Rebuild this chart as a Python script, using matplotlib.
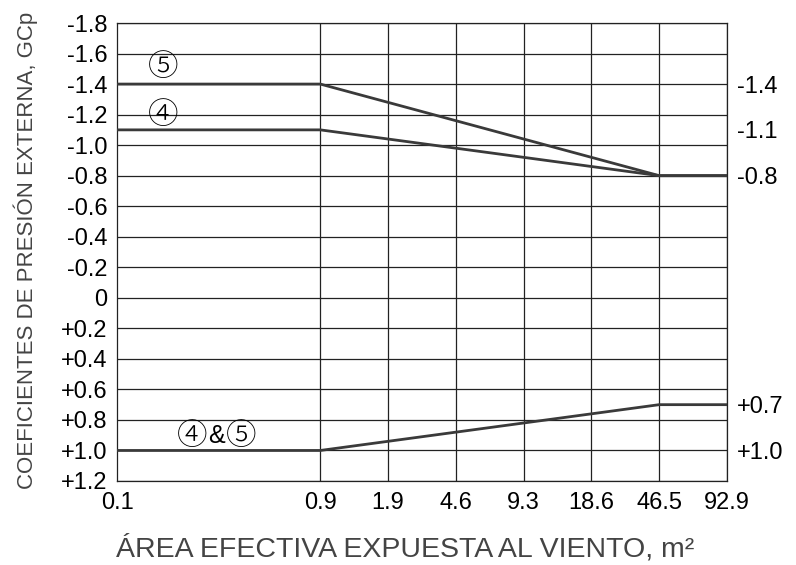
import matplotlib
matplotlib.use('Agg')
import matplotlib.pyplot as plt

# x axis: area categories, evenly spaced grid (0.1 sits three cells left of 0.9)
area_labels = ['0.1', '0.9', '1.9', '4.6', '9.3', '18.6', '46.5', '92.9']
area_pos = [0, 3, 4, 5, 6, 7, 8, 9]

# GCp points at 0.1, 0.9, 46.5, 92.9
line_area_idx = [0, 1, 6, 7]
zone5_neg = [-1.4, -1.4, -0.8, -0.8]
zone4_neg = [-1.1, -1.1, -0.8, -0.8]
zone45_pos = [1.0, 1.0, 0.7, 0.7]

y_ticks = [-1.8, -1.6, -1.4, -1.2, -1.0, -0.8, -0.6, -0.4, -0.2, 0,
           0.2, 0.4, 0.6, 0.8, 1.0, 1.2]
y_tick_labels = ['-1.8', '-1.6', '-1.4', '-1.2', '-1.0', '-0.8', '-0.6', '-0.4',
                 '-0.2', '0', '+0.2', '+0.4', '+0.6', '+0.8', '+1.0', '+1.2']
right_ticks = [-1.4, -1.1, -0.8, 0.7, 1.0]
right_labels = ['-1.4', '-1.1', '-0.8', '+0.7', '+1.0']

plt.rcParams['font.family'] = ['Liberation Sans', 'Noto Sans CJK JP', 'DejaVu Sans']

fig = plt.figure(figsize=(7.96, 5.65), dpi=100)
ax = fig.add_axes([117 / 796, 1 - 481 / 565, 610 / 796, 458 / 565])

ax.set_xlim(0, 9)
ax.set_ylim(1.2, -1.8)

grid_c = '#222222'
for v in y_ticks:
    ax.axhline(v, color=grid_c, lw=0.9, zorder=1)
for p in area_pos[1:]:
    ax.axvline(p, color=grid_c, lw=0.9, zorder=1)
for s in ax.spines.values():
    s.set_color(grid_c)
    s.set_linewidth(0.9)

line_c = '#3a3a3a'
xs = [area_pos[i] for i in line_area_idx]
ax.plot(xs, zone5_neg, color=line_c, lw=2.0, zorder=3)
ax.plot(xs, zone4_neg, color=line_c, lw=2.0, zorder=3)
ax.plot(xs, zone45_pos, color=line_c, lw=2.0, zorder=3)

ax.set_xticks(area_pos)
ax.set_xticklabels(area_labels)
ax.set_yticks(y_ticks)
ax.set_yticklabels(y_tick_labels)
ax.tick_params(axis='both', length=0, labelsize=17, colors='black')
ax.tick_params(axis='x', pad=8)
ax.tick_params(axis='y', pad=7)

ax2 = ax.twinx()
ax2.set_ylim(1.2, -1.8)
ax2.set_yticks(right_ticks)
ax2.set_yticklabels(right_labels)
ax2.tick_params(axis='y', length=0, labelsize=17, pad=7)
for s in ax2.spines.values():
    s.set_visible(False)

circ = dict(fontsize=22, fontweight='light', ha='center', va='center', zorder=4,
            family=['Noto Sans CJK JP', 'DejaVu Sans'])
ax.text(0.68, -1.51, '⑤', **circ)
ax.text(0.68, -1.2, '④', **circ)
ax.text(1.106, 0.903, '④', **circ)
ax.text(1.475, 0.903, '&', fontsize=18, ha='center', va='center', zorder=4)
ax.text(1.836, 0.903, '⑤', **circ)

fig.text(405 / 796, 1 - 549 / 565, 'ÁREA EFECTIVA EXPUESTA AL VIENTO, m²',
         fontsize=20.5, color='#444444', ha='center', va='center')
fig.text(26 / 796, 1 - 250 / 565, 'COEFICIENTES DE PRESIÓN EXTERNA, GCp',
         fontsize=16, color='#444444', ha='center', va='center', rotation=90)

fig.savefig('out.png', dpi=100)
